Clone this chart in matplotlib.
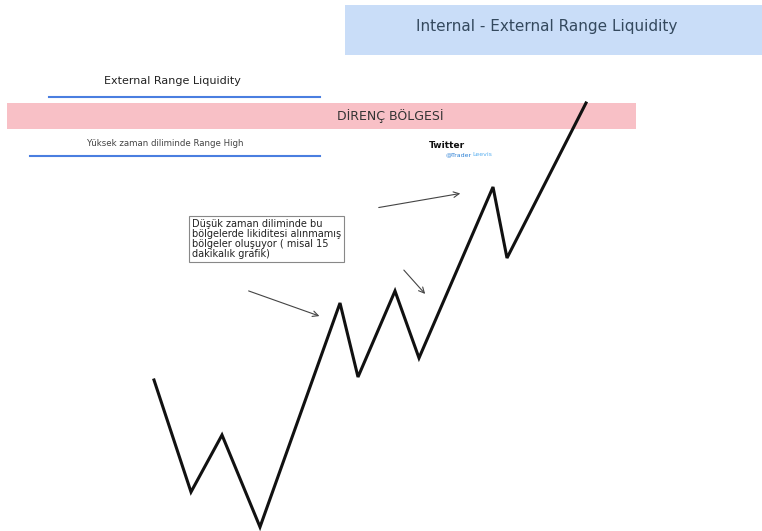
import matplotlib.pyplot as plt
from matplotlib.patches import Rectangle

# zigzag price path (pixel coords, y grows downward)
path_x = [154, 191, 222, 260, 340, 358, 395, 419, 493, 507, 586]
path_y = [380, 492, 435, 527, 303, 377, 291, 358, 187, 258, 103]

# annotation arrows: (x0, y0, x1, y1)
arrows = [(246, 290, 322, 317), (402, 268, 427, 296), (376, 208, 463, 193)]

title = "Internal - External Range Liquidity"
erl_label = "External Range Liquidity"
zone_label = "DİRENÇ BÖLGESİ"
high_label = "Yüksek zaman diliminde Range High"
note = ("Düşük zaman diliminde bu\nbölgelerde likiditesi alınmamış\n"
        "bölgeler oluşuyor ( misal 15\ndakikalık grafik)")

fig = plt.figure(figsize=(7.62, 5.31), dpi=100)
ax = fig.add_axes([0, 0, 1, 1])
ax.set_xlim(0, 762)
ax.set_ylim(531, 0)
ax.axis("off")

# title box
ax.add_patch(Rectangle((345, 5), 417, 50, color="#c9ddf8", lw=0))
ax.text(547, 26, title, ha="center", va="center", fontsize=11, color="#34495e")

# external range liquidity line
ax.text(172, 81, erl_label, ha="center", va="center", fontsize=8, color="#222222")
ax.plot([49, 320], [97, 97], color="#4a7ee0", lw=1.5)

# resistance zone
ax.add_patch(Rectangle((7, 103), 629, 26, color="#f8c0c6", lw=0))
ax.text(390, 116, zone_label, ha="center", va="center", fontsize=9, color="#333333")

# range high line
ax.text(165, 143, high_label, ha="center", va="center", fontsize=6.2, color="#444444")
ax.plot([30, 320], [156, 156], color="#4a7ee0", lw=1.5)

# twitter tag
ax.text(429, 146, "Twitter", ha="left", va="center", fontsize=6.5,
        fontweight="bold", color="#111111")
t1 = ax.text(446, 155, "@Trader", ha="left", va="center", fontsize=4.5, color="#2a7fd4")
ax.annotate("Leevis", xy=(1, 0.5), xycoords=t1, ha="left", va="center",
            fontsize=4.5, color="#5ab0f0")

# note box
ax.text(192, 239, note, ha="left", va="center", fontsize=7, color="#222222",
        linespacing=1.0,
        bbox=dict(boxstyle="square,pad=0.3", fc="white", ec="#888888", lw=0.8))

# arrows
for x0, y0, x1, y1 in arrows:
    ax.annotate("", xy=(x1, y1), xytext=(x0, y0),
                arrowprops=dict(arrowstyle="->", color="#444444", lw=0.8))

# price path
ax.plot(path_x, path_y, color="#111111", lw=2.2, solid_joinstyle="miter")

fig.savefig("out.png", dpi=100)
